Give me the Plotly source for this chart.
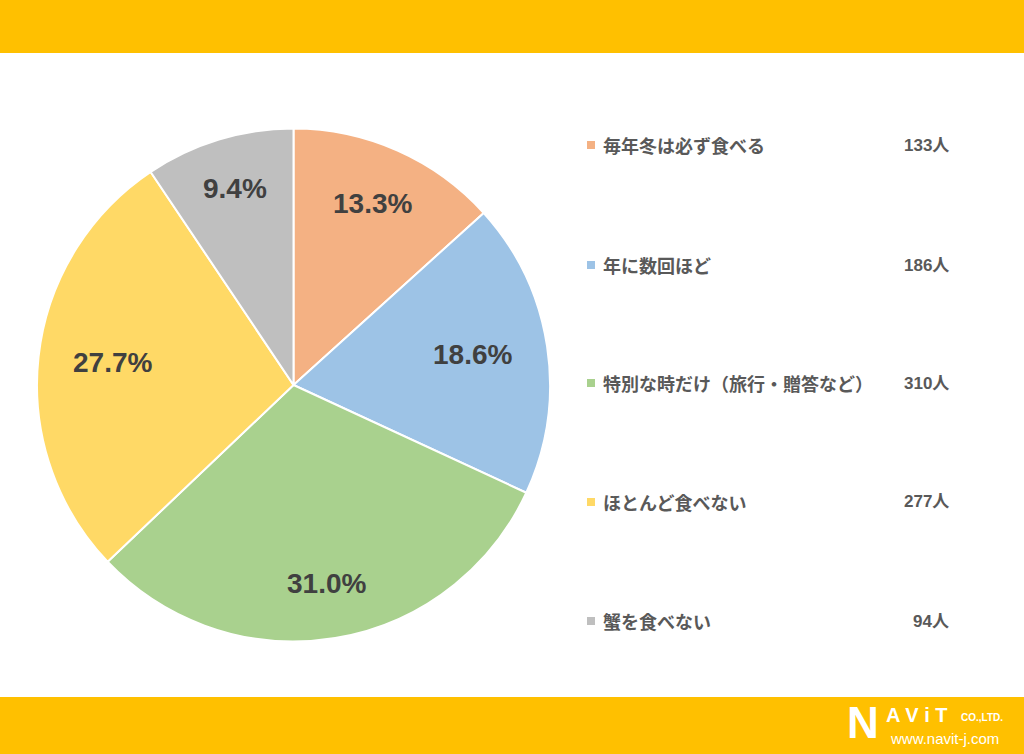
import math
import plotly.graph_objects as go

categories = ["毎年冬は必ず食べる", "年に数回ほど", "特別な時だけ（旅行・贈答など）", "ほとんど食べない", "蟹を食べない"]
counts = [133, 186, 310, 277, 94]
count_labels = [f"{c}人" for c in counts]
colors = ["#F4B183", "#9DC3E6", "#A9D18E", "#FFD966", "#BFBFBF"]

W, H = 1024, 754

# pie geometry (pixels)
dom_x = [37, 550]
dom_y = [128, 642]
cx = (dom_x[0] + dom_x[1]) / 2
cy = (dom_y[0] + dom_y[1]) / 2
R = (dom_x[1] - dom_x[0]) / 2
label_r = 0.877
label_font = 28
char_w = 0.6 * label_font
label_h = 14
label_dy = -3

fig = go.Figure()
fig.add_trace(go.Pie(
    labels=categories,
    values=counts,
    sort=False,
    direction="clockwise",
    rotation=0,
    marker=dict(colors=colors, line=dict(color="white", width=2)),
    textinfo="none",
    domain=dict(x=[dom_x[0] / W, dom_x[1] / W], y=[1 - dom_y[1] / H, 1 - dom_y[0] / H]),
    showlegend=False,
    hoverinfo="label+value+percent",
))

shapes = [
    dict(type="rect", xref="paper", yref="paper", x0=0, x1=1, y0=1 - 53 / H, y1=1,
         fillcolor="#FFC000", line=dict(width=0), layer="below"),
    dict(type="rect", xref="paper", yref="paper", x0=0, x1=1, y0=0, y1=(H - 697) / H,
         fillcolor="#FFC000", line=dict(width=0), layer="below"),
]

annotations = []

# percent labels at mid-angle of each slice (label box kept inside the slice, like Excel)
total = sum(counts)
cum = 0
for v in counts:
    mid = (cum + v / 2) / total * 2 * math.pi
    cum += v
    txt = f"{v / total * 100:.1f}%"
    hw = len(txt) * char_w / 2
    r = label_r * R - hw * abs(math.sin(mid)) - label_h * abs(math.cos(mid))
    px = cx + r * math.sin(mid)
    py = cy - r * math.cos(mid) + label_dy
    annotations.append(dict(xref="paper", yref="paper", x=px / W, y=1 - py / H,
                            text=txt, showarrow=False,
                            xanchor="center", yanchor="middle",
                            font=dict(family="Liberation Sans, Arial", size=label_font, color="#404040", weight="bold")))

legend_y = [145, 265, 383, 502, 621]
for name, cl, col, ly in zip(categories, count_labels, colors, legend_y):
    yp = 1 - ly / H
    shapes.append(dict(type="rect", xref="paper", yref="paper",
                       x0=587 / W, x1=595 / W, y0=yp - 4 / H, y1=yp + 4 / H,
                       fillcolor=col, line=dict(width=0)))
    annotations.append(dict(xref="paper", yref="paper", x=601 / W, y=yp, text=name,
                            showarrow=False, xanchor="left", yanchor="middle",
                            font=dict(family="Noto Sans CJK JP", size=18, color="#595959", weight="bold")))
    annotations.append(dict(xref="paper", yref="paper", x=951 / W, y=yp, text=cl,
                            showarrow=False, xanchor="right", yanchor="middle",
                            font=dict(family="Liberation Sans, Noto Sans CJK JP", size=17, color="#595959", weight="bold")))

# logo
annotations.append(dict(xref="paper", yref="paper", x=845 / W, y=1 - 722 / H, text="<b>N</b>",
                        showarrow=False, xanchor="left", yanchor="middle",
                        font=dict(family="Liberation Sans", size=44, color="white")))
annotations.append(dict(xref="paper", yref="paper", x=884 / W, y=1 - 715 / H, text="<b>A V i T</b>",
                        showarrow=False, xanchor="left", yanchor="middle",
                        font=dict(family="Liberation Sans", size=20, color="white")))
annotations.append(dict(xref="paper", yref="paper", x=959 / W, y=1 - 717 / H, text="<b>CO.,LTD.</b>",
                        showarrow=False, xanchor="left", yanchor="middle",
                        font=dict(family="Liberation Sans", size=10, color="white")))
annotations.append(dict(xref="paper", yref="paper", x=888 / W, y=1 - 738 / H, text="www.navit-j.com",
                        showarrow=False, xanchor="left", yanchor="middle",
                        font=dict(family="Liberation Sans", size=15, color="white")))

fig.update_layout(
    width=W, height=H,
    margin=dict(l=0, r=0, t=0, b=0),
    paper_bgcolor="white",
    plot_bgcolor="white",
    shapes=shapes,
    annotations=annotations,
)

fig.write_html("out.html", config={"displayModeBar": False},
               post_script="document.body.style.margin='0';document.body.style.overflow='hidden';")
